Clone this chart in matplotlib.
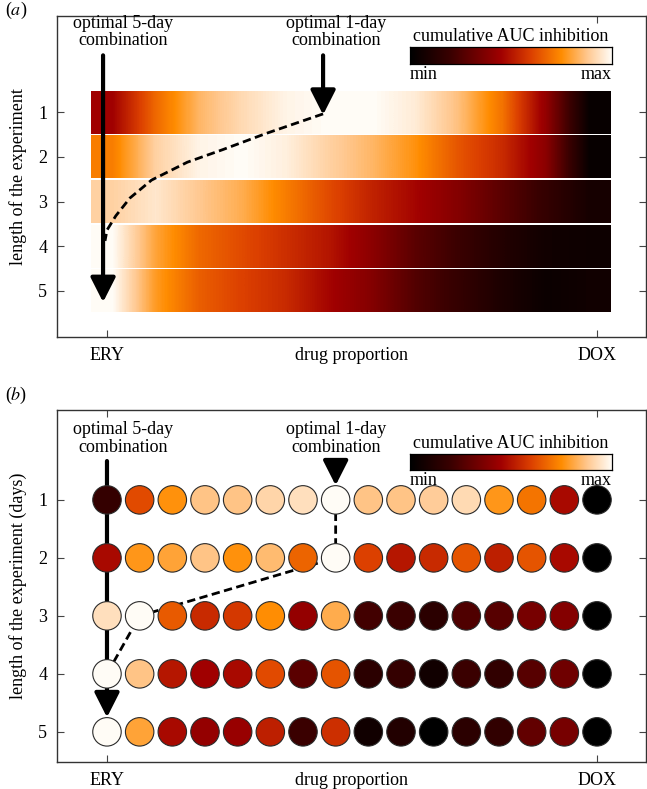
import numpy as np
import matplotlib
matplotlib.use("Agg")
import matplotlib.pyplot as plt
from matplotlib.colors import LinearSegmentedColormap

plt.rcParams['font.family'] = ['Liberation Serif', 'DejaVu Serif']
plt.rcParams['mathtext.fontset'] = 'stix'
FS = 13

# ---------------- data ----------------
days = [1, 2, 3, 4, 5]
xtick_labels = ['ERY', 'DOX']
xlabel = 'drug proportion'

# panel (a): continuous profiles sampled across the proportion axis
prop_a = np.linspace(-0.033, 1.027, 12)
row_a1 = [0.45, 0.68, 0.84, 0.92, 0.98, 1.00, 1.00, 0.96, 0.86, 0.70, 0.42, 0.03]
row_a2 = [0.72, 0.90, 0.98, 1.00, 0.97, 0.90, 0.84, 0.76, 0.64, 0.55, 0.40, 0.03]
row_a3 = [0.90, 0.95, 0.88, 0.82, 0.72, 0.62, 0.53, 0.46, 0.38, 0.28, 0.18, 0.08]
row_a4 = [1.00, 0.80, 0.68, 0.62, 0.56, 0.50, 0.40, 0.28, 0.20, 0.12, 0.06, 0.05]
row_a5 = [1.00, 0.78, 0.66, 0.60, 0.55, 0.46, 0.38, 0.26, 0.18, 0.10, 0.04, 0.06]
rows_a = [row_a1, row_a2, row_a3, row_a4, row_a5]

# optimal path in (a)
path_a_x = [0.441, 0.324, 0.236, 0.164, 0.091, 0.047, 0.018, 0.0, -0.004]
path_a_y = [1.04, 1.48, 1.84, 2.12, 2.52, 2.92, 3.32, 3.64, 3.88]

# panel (b): 16 discrete proportions
prop_b = np.linspace(0, 1, 16)
row_b1 = [0.18, 0.62, 0.76, 0.87, 0.87, 0.91, 0.93, 1.00, 0.87, 0.87, 0.89, 0.92, 0.77, 0.70, 0.47, 0.00]
row_b2 = [0.47, 0.77, 0.80, 0.87, 0.76, 0.85, 0.67, 1.00, 0.60, 0.50, 0.55, 0.64, 0.52, 0.64, 0.47, 0.00]
row_b3 = [0.93, 1.00, 0.65, 0.55, 0.58, 0.75, 0.42, 0.82, 0.22, 0.20, 0.15, 0.25, 0.27, 0.35, 0.38, 0.00]
row_b4 = [1.00, 0.87, 0.50, 0.45, 0.47, 0.62, 0.28, 0.64, 0.15, 0.18, 0.06, 0.20, 0.17, 0.27, 0.33, 0.00]
row_b5 = [1.00, 0.80, 0.47, 0.42, 0.43, 0.52, 0.20, 0.56, 0.06, 0.12, 0.00, 0.15, 0.17, 0.30, 0.35, 0.00]
rows_b = [row_b1, row_b2, row_b3, row_b4, row_b5]

# optimal path in (b): index of optimal proportion per day
opt_idx_b = [7, 7, 1, 0, 0]

cmap = LinearSegmentedColormap.from_list('auc', [
    (0.0, '#000000'), (0.2, '#3a0000'), (0.45, '#a00000'), (0.6, '#dc4000'),
    (0.75, '#ff8c00'), (0.88, '#ffc890'), (1.0, '#fffcf6')])

W, H = 647, 789
fig = plt.figure(figsize=(W / 100, H / 100), dpi=100)

def fig_rect(l, t, r, b):
    return [l / W, 1 - b / H, (r - l) / W, (b - t) / H]

def style_axes(ax, ylabel, ylim):
    ax.set_xlim(-0.102, 1.1)
    ax.set_ylim(*ylim)
    ax.set_xticks([0, 1], xtick_labels)
    ax.set_xticks([0.5], [xlabel], minor=True)
    ax.tick_params(axis='x', which='minor', length=0, pad=7, labelsize=FS)
    ax.set_yticks(days, [str(d) for d in days])
    ax.tick_params(axis='both', which='major', direction='in', top=True, right=True,
                   length=5, width=0.8, labelsize=FS, pad=7, color='#444444')
    ax.set_ylabel(ylabel, fontsize=FS, labelpad=8)
    for s in ax.spines.values():
        s.set_linewidth(1.0)
        s.set_color('#333333')

def colorbar_inset(l, t, r, b):
    cax = fig.add_axes(fig_rect(l, t, r, b))
    cax.imshow(np.linspace(0, 1, 256)[None, :], cmap=cmap, aspect='auto',
               extent=[0, 1, 0, 1])
    cax.set_xticks([]); cax.set_yticks([])
    for s in cax.spines.values():
        s.set_linewidth(0.9)
    cax.text(0.5, 1.12, 'cumulative AUC inhibition', transform=cax.transAxes,
             ha='center', va='bottom', fontsize=FS)
    cax.text(0.0, -0.12, 'min', transform=cax.transAxes, ha='left', va='top', fontsize=FS)
    cax.text(1.0, -0.12, 'max', transform=cax.transAxes, ha='right', va='top', fontsize=FS)

def arrow(ax, x, y0, y1):
    ax.annotate('', xy=(x, y1), xytext=(x, y0),
                arrowprops=dict(arrowstyle='-|>,head_length=0.75,head_width=0.38',
                                lw=3, color='k', mutation_scale=20,
                                shrinkA=0, shrinkB=0), zorder=2)

# ---------------- panel (a) ----------------
axa = fig.add_axes(fig_rect(57, 16, 646, 337))
for d, vals in zip(days, rows_a):
    axa.imshow(np.array(vals)[None, :], cmap=cmap, vmin=0, vmax=1, aspect='auto',
               interpolation='bilinear',
               extent=[prop_a[0], prop_a[-1], d + 0.48, d - 0.48], zorder=1)
axa.plot(path_a_x, path_a_y, color='k', lw=2, ls=(0, (3, 1.6)), zorder=3)
arrow(axa, -0.008, -0.27, 5.25)
arrow(axa, 0.441, -0.27, 1.06)
axa.text(0.033, -0.79, 'optimal 5-day\ncombination', ha='center', va='center',
         fontsize=FS, linespacing=1.05)
axa.text(0.467, -0.79, 'optimal 1-day\ncombination', ha='center', va='center',
         fontsize=FS, linespacing=1.05)
style_axes(axa, 'length of the experiment', (6.03, -1.15))
colorbar_inset(410, 47, 612, 64)
fig.text(5 / W, 1 - 10 / H, r'($\mathit{a}$)', fontsize=FS, ha='left', va='center')

# ---------------- panel (b) ----------------
axb = fig.add_axes(fig_rect(57, 410, 646, 762))
for d, vals in zip(days, rows_b):
    axb.scatter(prop_b, np.full(len(prop_b), d), c=vals, cmap=cmap, vmin=0, vmax=1,
                s=420, edgecolors='#2a2a2a', linewidths=0.8, zorder=4)
ox = [prop_b[i] for i in opt_idx_b[:4]]
oy = days[:4]
axb.plot(ox, oy, color='k', lw=2, ls=(0, (3, 1.6)), zorder=3)
arrow(axb, 0.0, 0.33, 4.75)
arrow(axb, prop_b[7], 0.33, 0.75)
axb.text(0.033, -0.06, 'optimal 5-day\ncombination', ha='center', va='center',
         fontsize=FS, linespacing=1.05)
axb.text(0.467, -0.06, 'optimal 1-day\ncombination', ha='center', va='center',
         fontsize=FS, linespacing=1.05)
style_axes(axb, 'length of the experiment (days)', (5.52, -0.55))
colorbar_inset(410, 454, 612, 470)
fig.text(5 / W, 1 - 395 / H, r'($\mathit{b}$)', fontsize=FS, ha='left', va='center')

fig.savefig('out.png', dpi=100)
